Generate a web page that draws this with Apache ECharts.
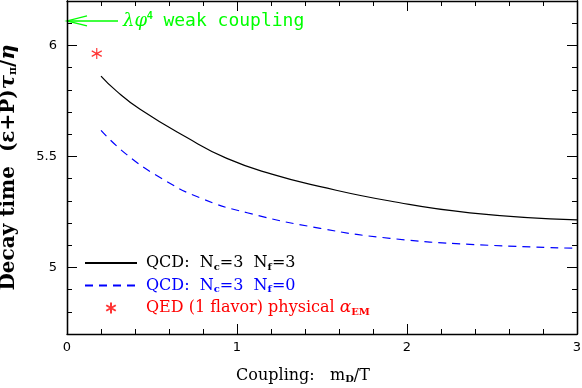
<!DOCTYPE html>
<html>
<head>
<meta charset="utf-8">
<script src="https://cdn.jsdelivr.net/npm/echarts@6/dist/echarts.min.js"></script>
<style>
  html, body { margin: 0; padding: 0; background: #fff; }
  #main { width: 582px; height: 388px; }
</style>
</head>
<body>
<div id="main"></div>
<script>
// data
let nf3X = [0.2, 0.29, 0.43, 0.7, 0.94, 1.21, 1.49, 1.9, 2.37, 3.0];
let nf3Y = [5.862, 5.795, 5.712, 5.587, 5.491, 5.419, 5.364, 5.299, 5.246, 5.214];
let nf0X = [0.2, 0.35, 0.55, 0.78, 1.06, 1.49, 1.9, 2.37, 3.0];
let nf0Y = [5.617, 5.509, 5.404, 5.314, 5.246, 5.176, 5.131, 5.104, 5.086];
let qedPoint = [0.175, 5.963];
let weakY = 6.11;        // lambda phi^4 limit (arrow)
let arrowTail = 0.3;

let xMajor = [0, 1, 2, 3];
let yMajor = [5, 5.5, 6];
let yMinor = [4.8, 4.9, 5.1, 5.2, 5.3, 5.4, 5.6, 5.7, 5.8, 5.9, 6.1];

let pair = (xs, ys) => xs.map((v, i) => [v, ys[i]]);

let sub = { fontSize: 10, fontWeight: 'bold', verticalAlign: 'bottom', lineHeight: 12 };
let legendRich = {
  s: sub,
  a: { fontStyle: 'italic', fontSize: 17, fontFamily: 'DejaVu Serif' }
};
let legendText = {
  nf3: 'QCD:  N{s|c}=3  N{s|f}=3',
  nf0: 'QCD:  N{s|c}=3  N{s|f}=0',
  qed: 'QED (1 flavor) physical {a|α}{s|EM}'
};

let star = 'path://M5,0L5,10M0.67,2.5L9.33,7.5M0.67,7.5L9.33,2.5';

function xAx(pos, labels) {
  return {
    type: 'value', min: 0, max: 3, interval: 1, position: pos,
    axisLine: { show: true, lineStyle: { color: '#000', width: 1.3 } },
    axisTick: { show: true, inside: true, length: 10, customValues: xMajor, lineStyle: { color: '#000', width: 1 } },
    minorTick: { show: true, splitNumber: 5, length: 5, lineStyle: { color: '#000', width: 1 } },
    splitLine: { show: false },
    axisLabel: labels ? { show: true, customValues: xMajor, margin: 7, color: '#000', fontSize: 13, fontFamily: 'DejaVu Sans' } : { show: false }
  };
}
function yAx(pos, vals, len, labels) {
  return {
    type: 'value', min: 4.7, max: 6.2, position: pos,
    axisLine: { show: true, lineStyle: { color: '#000', width: 1.3 } },
    axisTick: { show: true, inside: true, length: len, customValues: vals, lineStyle: { color: '#000', width: 1 } },
    splitLine: { show: false },
    axisLabel: labels ? { show: true, customValues: vals, margin: 10, color: '#000', fontSize: 13, fontFamily: 'DejaVu Sans' } : { show: false }
  };
}

let xBottom = xAx('bottom', true);
xBottom.name = 'Coupling:   m{s|D}/T';
xBottom.nameLocation = 'middle';
xBottom.nameGap = 34;
xBottom.nameTextStyle = {
  color: '#000', fontSize: 16, fontFamily: 'DejaVu Serif', padding: [0, 38, 0, 0],
  rich: { s: { fontSize: 10, fontWeight: 'bold', verticalAlign: 'bottom', lineHeight: 12, fontFamily: 'DejaVu Serif' } }
};

let yLeft = yAx('left', yMajor, 10, true);
yLeft.name = 'Decay time  (ε+P){t|τ}{s|π}/{t|η}';
yLeft.nameLocation = 'middle';
yLeft.nameGap = 48;
yLeft.nameTextStyle = {
  color: '#000', fontSize: 20, fontWeight: 'bold', fontFamily: 'DejaVu Serif',
  rich: {
    t: { fontSize: 21, fontStyle: 'italic', fontFamily: 'DejaVu Serif' },
    s: { fontSize: 11, fontWeight: 'bold', verticalAlign: 'bottom', lineHeight: 14, fontFamily: 'DejaVu Serif' }
  }
};

let chart = echarts.init(document.getElementById('main'));
chart.setOption({
  animation: false,
  backgroundColor: '#fff',
  grid: { left: 67, right: 5, top: 1, bottom: 54, outerBoundsMode: 'none', containLabel: false },
  xAxis: [xBottom, xAx('top', false)],
  yAxis: [yLeft, yAx('left', yMinor, 5, false), yAx('right', yMajor, 10, false), yAx('right', yMinor, 5, false)],
  legend: {
    orient: 'vertical', left: 84, top: 254, padding: 0,
    itemWidth: 52, itemHeight: 11, itemGap: 4.5,
    selectedMode: false,
    formatter: n => legendText[n],
    textStyle: { fontSize: 16, fontFamily: 'DejaVu Serif', lineHeight: 18, padding: [0, 0, 0, 4], rich: legendRich },
    data: [
      { name: 'nf3', itemStyle: { opacity: 0 }, textStyle: { color: '#000' } },
      { name: 'nf0', itemStyle: { opacity: 0 }, textStyle: { color: '#0000ff' } },
      { name: 'qed', textStyle: { color: '#ff0000' } }
    ]
  },
  series: [
    {
      name: 'nf3', type: 'line', smooth: true, symbol: 'none',
      data: pair(nf3X, nf3Y),
      lineStyle: { color: '#000', width: 1.2 }, itemStyle: { color: '#000' }
    },
    {
      name: 'nf0', type: 'line', smooth: true, symbol: 'none',
      data: pair(nf0X, nf0Y),
      lineStyle: { color: '#0000ff', width: 1.2, type: [8, 6] }, itemStyle: { color: '#0000ff' }
    },
    {
      name: 'qed', type: 'scatter', symbol: star, symbolSize: [10, 11],
      data: [qedPoint],
      itemStyle: { color: 'transparent', borderColor: '#ff0000', borderWidth: 1.2 }
    }
  ]
});

// lambda phi^4 arrow + label
let tip = chart.convertToPixel({ xAxisIndex: 0, yAxisIndex: 0 }, [0, weakY]);
let tail = chart.convertToPixel({ xAxisIndex: 0, yAxisIndex: 0 }, [arrowTail, weakY]);
chart.setOption({
  graphic: [
    { type: 'polyline', shape: { points: [tip, tail] }, style: { stroke: '#00ff00', lineWidth: 1.3, fill: null } },
    { type: 'polyline', shape: { points: [[tip[0] + 20, tip[1] - 5], tip, [tip[0] + 20, tip[1] + 5]] }, style: { stroke: '#00ff00', lineWidth: 1.3, fill: null } },
    {
      type: 'text', x: tail[0] + 5, y: tail[1],
      style: {
        text: '{g|λφ}{p|4} weak coupling', fill: '#00ff00', verticalAlign: 'middle',
        font: '18px "DejaVu Sans Mono"',
        rich: {
          g: { fontSize: 18, fontFamily: 'DejaVu Serif', fontStyle: 'italic', fill: '#00ff00' },
          p: { fontSize: 10, fontWeight: 'bold', verticalAlign: 'top', lineHeight: 20, fill: '#00ff00' }
        }
      }
    }
  ]
});
</script>
</body>
</html>
